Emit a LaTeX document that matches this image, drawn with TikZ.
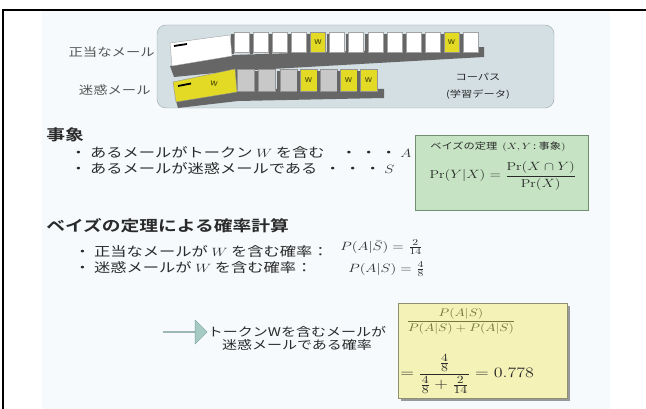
\documentclass[tikz,border=0pt]{standalone}
\usepackage{fontspec}
\usepackage{amsmath}
\newfontfamily\jp{Noto Sans CJK JP}[BoldFont={Noto Sans CJK JP Bold}]
\usetikzlibrary{shapes.arrows,shadows}
\definecolor{ink}{HTML}{2A2A2A}
\definecolor{slidebg}{HTML}{F6FAFC}
\definecolor{corpusfill}{HTML}{D3DFE3}
\definecolor{corpusline}{HTML}{9AA6AB}
\definecolor{bayesfill}{HTML}{C6E4C4}
\definecolor{bayesline}{HTML}{6F8F70}
\definecolor{resultfill}{HTML}{F4F2B6}
\definecolor{resultline}{HTML}{8F8F72}
\definecolor{arrowfill}{HTML}{A6CAC4}
\definecolor{arrowline}{HTML}{7F9F9C}
\definecolor{cardedge}{HTML}{666666}
\definecolor{cardgray}{HTML}{C8C8C8}
\definecolor{cardyellow}{HTML}{E2DA24}
\definecolor{wink}{HTML}{55550A}
\newcommand{\fs}[1]{\fontsize{#1}{#1}\selectfont}
\begin{document}
\begin{tikzpicture}[x=1pt,y=-1pt,
  txt/.style={inner sep=0pt, font=\jp, text=ink, xscale=1.25},
  heading/.style={txt, font=\jp\bfseries\fs{15}},
  bullet/.style={txt, font=\jp\fs{13}, anchor=west},
  smalllabel/.style={txt, font=\jp\fs{11.5}, text=ink!80},
  whitecard/.style={fill=white, draw=cardedge!60, line width=0.4pt},
  graycard/.style={fill=cardgray, draw=cardedge!70, line width=0.4pt},
  yellowcard/.style={fill=cardyellow, draw=cardedge!70, line width=0.4pt},
  cardside/.style={fill=cardedge},
  wmark/.style={inner sep=0pt, font=\sffamily\bfseries\fs{7}, text=wink}]
\useasboundingbox (0,0) rectangle (646,409);

% slide area and frame
\fill[slidebg] (42,11) rectangle (610,409);
\draw[line width=1.3pt] (3,415) -- (3,10) -- (650,10);

% corpus panel
\node (corpus) [draw=corpusline, fill=corpusfill, rounded corners=9pt,
  minimum width=397pt, minimum height=83pt, inner sep=0pt] at (355.5,66.5) {};
\node (legit) [smalllabel, anchor=east] at (155,52) {正当なメール};
\node (spam)  [smalllabel, anchor=east] at (151,90) {迷惑メール};
\node (corpustitle) [txt, font=\jp\fs{9}] at (478,77) {コーパス};
\node (corpusnote)  [txt, font=\jp\fs{9}] at (478,95) {(学習データ)};

% stack of legitimate mails
\fill[cardside] (170,66) -- (232,55) -- (484,47) -- (484,57) -- (236,71) -- (174,77) -- cycle;
\foreach \i in {0,...,12} {
  \pgfmathsetmacro{\cx}{234+19.1*\i}
  \fill[cardside] (\cx-3,34) rectangle (\cx,54);
  \ifnum\i=4
    \draw[yellowcard] (\cx,32) rectangle (\cx+15,52);
    \node[wmark] at (\cx+7.5,42) {W};
  \else\ifnum\i=11
    \draw[yellowcard] (\cx,32) rectangle (\cx+15,52);
    \node[wmark] at (\cx+7.5,42) {W};
  \else
    \draw[whitecard] (\cx,32) rectangle (\cx+15,52);
  \fi\fi
}
\draw[whitecard] (170,43) -- (230,35) -- (232,56) -- (172,66) -- cycle;
\draw[line width=1.8pt] (174,46) -- (187,44);

% stack of spam mails
\fill[cardside] (176,101) -- (237,89) -- (384,89) -- (384,98) -- (238,101) -- (178,108) -- cycle;
\foreach \cx/\kind in {237/g,258/g,280/g,300/y,320/g,340/y,360/y} {
  \fill[cardside] (\cx-3,71) rectangle (\cx,93);
  \if y\kind
    \draw[yellowcard] (\cx,69) rectangle (\cx+17,91);
    \node[wmark] at (\cx+8.5,80) {W};
  \else
    \draw[graycard] (\cx,69) rectangle (\cx+17,91);
  \fi
}
\draw[yellowcard] (173,82) -- (235,69) -- (237,92) -- (176,102) -- cycle;
\draw[line width=1.8pt] (178,86) -- (191,83.5);
\node[wmark, rotate=-8] at (214,84) {W};

% events
\node (events) [heading, anchor=west] at (46,135) {事象};
\node (eventA) [bullet] at (70,153) {・\ あるメールがトークン $W$ を含む\quad ・\ ・\ ・\ $A$};
\node (eventS) [bullet] at (70,168) {・\ あるメールが迷惑メールである\ \ ・\ ・\ ・\ $S$};

% Bayes' theorem box
\node (bayes) [draw=bayesline, fill=bayesfill, line width=0.8pt,
  minimum width=173pt, minimum height=75pt, inner sep=0pt] at (501.5,172.5) {};
\node (bayestitle) [txt, font=\jp\fs{9}] at (498,147) {ベイズの定理\ \ $(X,Y$\,:\ 事象$)$};
\node (bayesformula) [txt, font=\fs{11.5}] at (503,176)
  {$\Pr(Y|X)=\dfrac{\Pr(X\cap Y)}{\Pr(X)}$};

% probability calculation
\node (calc) [heading, anchor=west] at (46,226) {ベイズの定理による確率計算};
\node (probLegit) [bullet] at (74,252) {・\ 正当なメールが $W$ を含む確率：};
\node (probLegitVal) [txt, font=\fs{12.5}, anchor=west] at (340,247) {$P(A|\bar{S})=\frac{2}{14}$};
\node (probSpam) [bullet] at (74,268) {・\ 迷惑メールが $W$ を含む確率：};
\node (probSpamVal) [txt, font=\fs{12.5}, anchor=west] at (348,269) {$P(A|S)=\frac{4}{8}$};

% result
\node (arrow) [single arrow, draw=arrowline, fill=arrowfill, inner sep=0pt,
  minimum width=24pt, single arrow head extend=6pt, minimum height=44pt] at (185,332) {};
\node (resultlabel) [txt, font=\jp\fs{12}, align=center] at (297,338)
  {トークンWを含むメールが\\[1pt]迷惑メールである確率};
\node (result) [draw=resultline, fill=resultfill, line width=0.6pt,
  drop shadow={shadow xshift=2.5pt, shadow yshift=-2.5pt, fill=black!40, opacity=1},
  minimum width=169pt, minimum height=95pt, inner sep=0pt] at (482.5,350.5) {};
\node (resultfrac) [txt, font=\fs{11}, text=wink!80] at (461,321)
  {$\dfrac{P(A|S)}{P(A|S)+P(A|\bar{S})}$};
\node (resultval) [txt, font=\fs{15}, anchor=west] at (400,374)
  {$=\dfrac{\frac{4}{8}}{\frac{4}{8}+\frac{2}{14}}=0.778$};
\end{tikzpicture}
\end{document}
